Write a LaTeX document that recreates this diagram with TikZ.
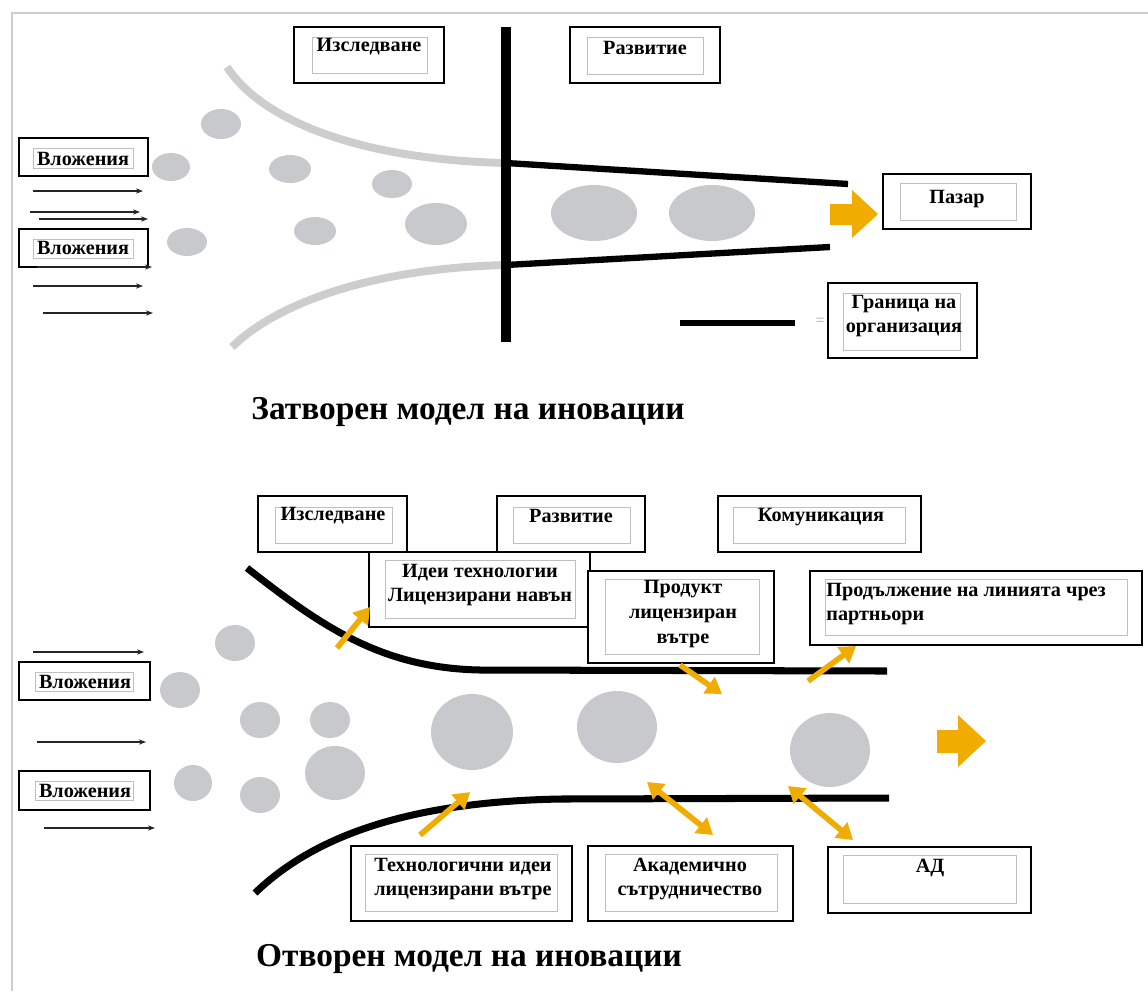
\documentclass[tikz,border=0pt]{standalone}
\usepackage{fontspec}
\setmainfont{Liberation Serif}
\usetikzlibrary{arrows.meta}
\definecolor{blobgray}{RGB}{200,201,205}
\definecolor{pathgray}{RGB}{205,205,205}
\definecolor{flowyellow}{RGB}{240,172,0}

\begin{document}
\begin{tikzpicture}[x=0.02cm,y=-0.02cm,
    outbox/.style={draw=black,line width=1pt,fill=white},
    inbox/.style={draw=gray!50,line width=0.4pt},
    lbl/.style={font=\fontsize{11.5}{14}\selectfont\bfseries,align=center,inner sep=0pt},
    ttl/.style={font=\fontsize{19}{22}\selectfont\bfseries,inner sep=0pt},
    blob/.style={fill=blobgray},
    inarrow/.style={draw=black!85,line width=1pt,-{Stealth[length=4pt,width=3pt]}},
    orgline/.style={draw=black,line width=3.6pt},
    yarrow/.style={draw=flowyellow,line width=3.2pt,-{Triangle[length=9pt,width=11pt]}},
    ydouble/.style={draw=flowyellow,line width=3.2pt,{Triangle[length=9pt,width=11pt]}-{Triangle[length=9pt,width=11pt]}}]
                \useasboundingbox (0,0) rectangle (1148,991);
                \draw[pathgray,line width=0.6pt] (12,991) -- (12,13) -- (1148,13);

                % closed model
                \draw[pathgray,line width=4.5pt] (227,67) .. controls (265,125) and (370,160) .. (506,163);
                \draw[pathgray,line width=4.5pt] (232,347) .. controls (280,300) and (380,268) .. (506,265);
                \fill[blob] (221,124) ellipse [x radius=20,y radius=15];
                \fill[blob] (171,167) ellipse [x radius=19,y radius=14];
                \fill[blob] (290,169) ellipse [x radius=21,y radius=14];
                \fill[blob] (392,184) ellipse [x radius=20,y radius=14];
                \fill[blob] (315,231) ellipse [x radius=21,y radius=14];
                \fill[blob] (187,242) ellipse [x radius=20,y radius=14];
                \fill[blob] (436,224) ellipse [x radius=31,y radius=21];
                \fill[blob] (594,213) ellipse [x radius=43,y radius=28];
                \fill[blob] (712,213) ellipse [x radius=43,y radius=28];
                \draw[orgline] (506,163) -- (848,184);
                \draw[orgline] (506,265) -- (830,247);
                \draw[line width=5.7pt] (506,27) -- (506,342);
                \fill[flowyellow] (830,204) -- (852,204) -- (852,190) -- (878,214) -- (852,238) -- (852,225) -- (830,225) -- cycle;

                \draw[outbox] (294,27) rectangle (444,83);
                \draw[inbox] (312,37) rectangle (427,73);
                \node[lbl] (resA) at (369,47) {Изследване};
                \draw[outbox] (570,27) rectangle (720,83);
                \draw[inbox] (587,37) rectangle (703,74);
                \node[lbl] (devA) at (645,48) {Развитие};
                \draw[outbox] (19,138) rectangle (148,176);
                \draw[inbox] (33,148) rectangle (133,168);
                \node[lbl] (inA) at (83,159) {Вложения};
                \draw[outbox] (19,229) rectangle (148,267);
                \draw[inbox] (33,239) rectangle (133,258);
                \node[lbl] (inB) at (83,248) {Вложения};
                \foreach \y/\xa/\xb in {191/33/143, 212/30/140, 219/39/148, 267/37/152, 286/33/143, 313/43/153}
                    \draw[inarrow] (\xa,\y) -- (\xb,\y);
                \draw[outbox] (883,174) rectangle (1031,229);
                \draw[inbox] (900,183) rectangle (1016,220);
                \node[lbl] (market) at (957,199) {Пазар};
                \draw[orgline] (680,323) -- (795,323);
                \node[font=\small,text=gray!70] (eq) at (820,322) {=};
                \draw[outbox] (828,283) rectangle (977,358);
                \draw[inbox] (843,293) rectangle (960,350);
                \node[lbl] (limit) at (904,316) {Граница на\\организация};
                \node[ttl] (closedT) at (468,412) {Затворен модел на иновации};

                % open model
                \draw[line width=4pt] (247,568) .. controls (320,625) and (380,668) .. (480,670) -- (887,671);
                \draw[line width=4pt] (255,893) .. controls (310,840) and (400,802) .. (560,799) -- (889,798);
                \fill[blob] (235,643) ellipse [x radius=20,y radius=18];
                \fill[blob] (180,690) ellipse [x radius=20,y radius=18];
                \fill[blob] (260,720) ellipse [x radius=20,y radius=18];
                \fill[blob] (330,720) ellipse [x radius=20,y radius=18];
                \fill[blob] (193,783) ellipse [x radius=19,y radius=18];
                \fill[blob] (260,795) ellipse [x radius=20,y radius=18];
                \fill[blob] (335,773) ellipse [x radius=30,y radius=27];
                \fill[blob] (472,732) ellipse [x radius=41,y radius=38];
                \fill[blob] (617,727) ellipse [x radius=40,y radius=36];
                \fill[blob] (830,750) ellipse [x radius=40,y radius=37];
                \fill[flowyellow] (937,730) -- (958,730) -- (958,715) -- (986,741) -- (958,767) -- (958,753) -- (937,753) -- cycle;

                \draw[outbox] (258,496) rectangle (407,552);
                \draw[inbox] (275,507) rectangle (392,543);
                \node[lbl] (resB) at (333,516) {Изследване};
                \draw[outbox] (497,496) rectangle (645,552);
                \draw[inbox] (513,507) rectangle (630,543);
                \node[lbl] (devB) at (571,516) {Развитие};
                \draw[outbox] (718,496) rectangle (921,552);
                \draw[inbox] (733,507) rectangle (905,543);
                \node[lbl] (comm) at (821,517) {Комуникация};
                \draw[outbox] (369,552) rectangle (590,627);
                \draw[inbox] (385,560) rectangle (575,618);
                \node[lbl] (ideasOut) at (480,585) {Идеи технологии\\Лицензирани навън};
                \draw[outbox] (588,571) rectangle (774,663);
                \draw[inbox] (605,579) rectangle (759,654);
                \node[lbl] (prodIn) at (683,614) {Продукт\\лицензиран\\вътре};
                \draw[outbox] (810,571) rectangle (1142,645);
                \draw[inbox] (825,579) rectangle (1127,635);
                \node[lbl,align=left,anchor=west] (partners) at (826,604) {Продължение на линията чрез\\партньори};
                \draw[outbox] (19,662) rectangle (150,700);
                \draw[inbox] (35,672) rectangle (133,691);
                \node[lbl] (inC) at (85,682) {Вложения};
                \draw[outbox] (19,771) rectangle (150,810);
                \draw[inbox] (35,781) rectangle (133,800);
                \node[lbl] (inD) at (85,791) {Вложения};
                \foreach \y/\xa/\xb in {652/33/144, 742/37/146, 828/44/155}
                    \draw[inarrow] (\xa,\y) -- (\xb,\y);

                \draw[outbox] (351,846) rectangle (572,921);
                \draw[inbox] (365,854) rectangle (557,911);
                \node[lbl] (ideasIn) at (463,879) {Технологични идеи\\лицензирани вътре};
                \draw[outbox] (588,846) rectangle (793,921);
                \draw[inbox] (605,854) rectangle (777,911);
                \node[lbl] (academy) at (690,879) {Академично\\сътрудничество};
                \draw[outbox] (828,847) rectangle (1031,913);
                \draw[inbox] (843,855) rectangle (1016,903);
                \node[lbl] (rnd) at (930,868) {АД};

                \draw[yarrow] (337,648) -- (370,607);
                \draw[yarrow] (680,665) -- (722,694);
                \draw[yarrow] (808,681) -- (856,646);
                \draw[yarrow] (420,835) -- (470,792);
                \draw[ydouble] (647,782) -- (713,835);
                \draw[ydouble] (788,786) -- (853,840);
                \node[ttl] (openT) at (469,959) {Отворен модел на иновации};
            \end{tikzpicture}
\end{document}
